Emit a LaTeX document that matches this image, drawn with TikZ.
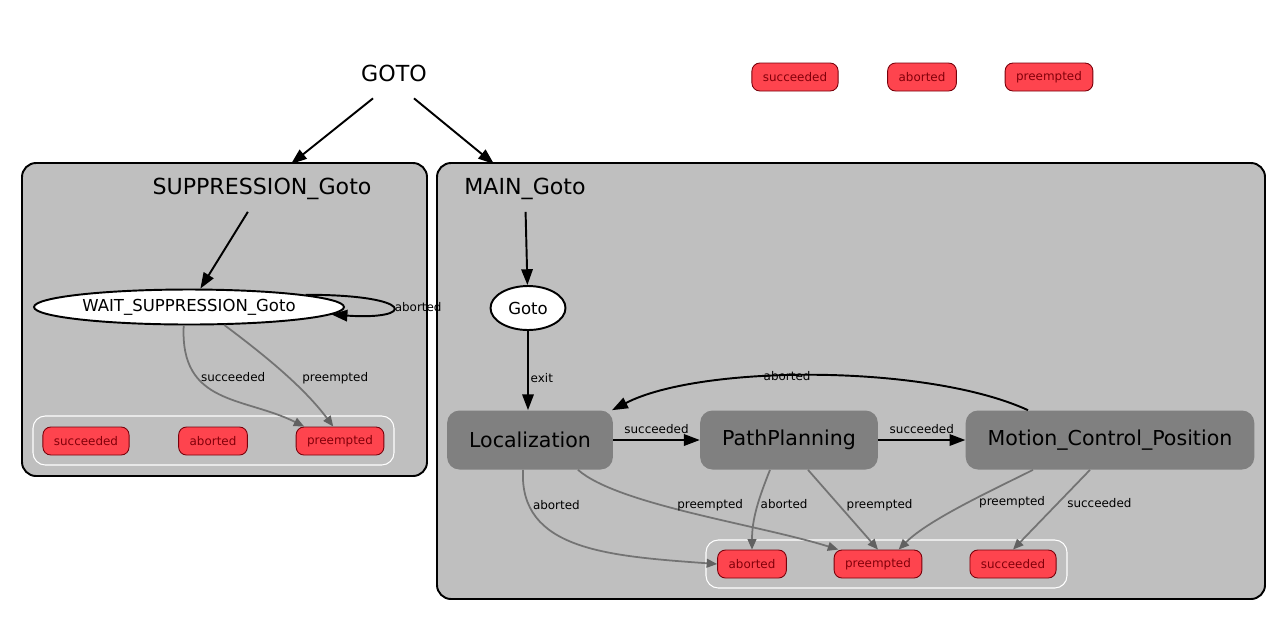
\documentclass[tikz,border=0pt]{standalone}
\usepackage{fontspec}
\setmainfont{DejaVu Sans}
\usetikzlibrary{arrows.meta,shapes.geometric}

\definecolor{clusterbg}{RGB}{191,191,191}
\definecolor{stategray}{RGB}{128,128,128}
\definecolor{outfill}{RGB}{254,68,78}
\definecolor{outdraw}{RGB}{120,0,10}
\definecolor{outtext}{RGB}{130,0,10}

\tikzset{
    big/.style={font=\fontsize{11.7}{14}\selectfont},
    head/.style={font=\fontsize{12.6}{15}\selectfont},
    small/.style={font=\fontsize{6.8}{8}\selectfont},
    cluster/.style={draw=black, line width=1.1pt, fill=clusterbg, rounded corners=8pt},
    container/.style={draw=white, line width=0.6pt, rounded corners=7pt},
    outcome/.style={small, text=outtext, draw=outdraw, fill=outfill, line width=0.5pt,
        rounded corners=4.5pt, minimum height=0.56cm, inner xsep=0.22cm},
    state/.style={big, fill=stategray, rounded corners=7pt, minimum height=1.18cm, inner xsep=0.44cm},
    oval/.style={ellipse, draw=black, line width=1.1pt, fill=white, inner sep=0pt,
        font=\fontsize{9.4}{11}\selectfont},
    arr/.style={line width=1.1pt, -{Triangle[length=9pt,width=6.5pt]}},
    garr/.style={line width=1pt, draw=black!55,
        -{Triangle[length=6pt,width=5pt,color=black!62,fill=black!62]}},
    lab/.style={small, inner sep=1pt}
}

\begin{document}
\begin{tikzpicture}[x=0.02cm, y=-0.02cm]
        \useasboundingbox (0, 0) rectangle (1280, 627);

        \node[head, minimum height=1cm, minimum width=1.5cm] (goto) at (394, 73) {GOTO};
        \foreach \name/\x in {succeeded/795, aborted/922, preempted/1049} {
            \node[outcome] (top\name) at (\x, 77) {\name};
        }

        \draw[cluster] (22, 163) rectangle (427, 476);
        \draw[cluster] (437, 163) rectangle (1265, 599);
        \coordinate (suppin) at (291, 164);
        \coordinate (mainin) at (494, 164);
        \draw[arr] ([xshift=-0.42cm]goto.south) -- (suppin);
        \draw[arr] ([xshift=0.4cm]goto.south) -- (mainin);

        \node[head, minimum height=0.9cm] (supplabel) at (262, 189) {SUPPRESSION\_Goto};
        \node[oval, minimum width=6.2cm, minimum height=0.7cm] (wait) at (189, 307) {WAIT\_SUPPRESSION\_Goto};
        \draw[arr] (supplabel) -- (wait);
        \draw[container] (33, 416) rectangle (394, 465);
        \foreach \name/\x in {succeeded/86, aborted/213, preempted/340} {
            \node[outcome] (supp\name) at (\x, 441) {\name};
        }
        \draw[arr] (wait.6) .. controls +(112, 0) and +(84, 6) .. (wait.-3)
            node[lab, pos=0.5, right] {aborted};
        \draw[garr] (wait.254) .. controls +(-4, 80) and +(-60, -30) .. (supppreempted.158)
            node[lab, pos=0.3, right=1pt] {succeeded};
        \draw[garr] (wait.333) .. controls +(40, 30) and +(-30, -40) .. (supppreempted.115)
            node[lab, pos=0.56, right=6pt] {preempted};

        \node[head, minimum height=0.9cm] (mainlabel) at (525, 189) {MAIN\_Goto};
        \node[oval, minimum width=1.5cm, minimum height=0.88cm] (gotostate) at (528, 308) {Goto};
        \draw[arr] (mainlabel) -- (gotostate);

        \node[state] (loc) at (530, 440) {Localization};
        \node[state] (path) at (789, 440) {PathPlanning};
        \node[state] (mcp) at (1110, 440) {Motion\_Control\_Position};
        \draw[arr] (gotostate) -- (loc.north -| gotostate) node[lab, pos=0.6, right] {exit};
        \draw[arr] (loc) -- (path) node[lab, midway, above=2pt] {succeeded};
        \draw[arr] (path) -- (mcp) node[lab, midway, above=2pt] {succeeded};
        \draw[arr] (mcp.160) .. controls +(-100, -46) and +(89, -46) .. (loc.20)
            node[lab, pos=0.56, inner sep=0pt] {aborted};

        \draw[container] (706, 540) rectangle (1067, 588);
        \foreach \name/\x in {aborted/752, preempted/878, succeeded/1013} {
            \node[outcome] (main\name) at (\x, 564) {\name};
        }
        \draw[garr] ([xshift=-0.14cm]loc.south) .. controls +(-4, 80) and +(-110, -8) .. (mainaborted.west)
            node[lab, pos=0.17, right=1pt] {aborted};
        \draw[garr] ([xshift=0.96cm]loc.south) .. controls +(40, 35) and +(-80, -25) .. (mainpreempted.160)
            node[lab, pos=0.5, above=0pt, xshift=0.34cm] {preempted};
        \draw[garr] ([xshift=-0.38cm]path.south) .. controls +(-12, 30) and +(0, -30) .. (mainaborted.north)
            node[lab, pos=0.42, right=0pt] {aborted};
        \draw[garr] ([xshift=0.38cm]path.south) -- (mainpreempted.north)
            node[lab, pos=0.44, right=3pt] {preempted};
        \draw[garr] ([xshift=-1.54cm]mcp.south) .. controls +(-40, 20) and +(30, -30) .. (mainpreempted.35)
            node[lab, pos=0.45, right=4pt] {preempted};
        \draw[garr] ([xshift=-0.4cm]mcp.south) -- (mainsucceeded.north)
            node[lab, pos=0.42, right=4pt] {succeeded};
    \end{tikzpicture}
\end{document}
